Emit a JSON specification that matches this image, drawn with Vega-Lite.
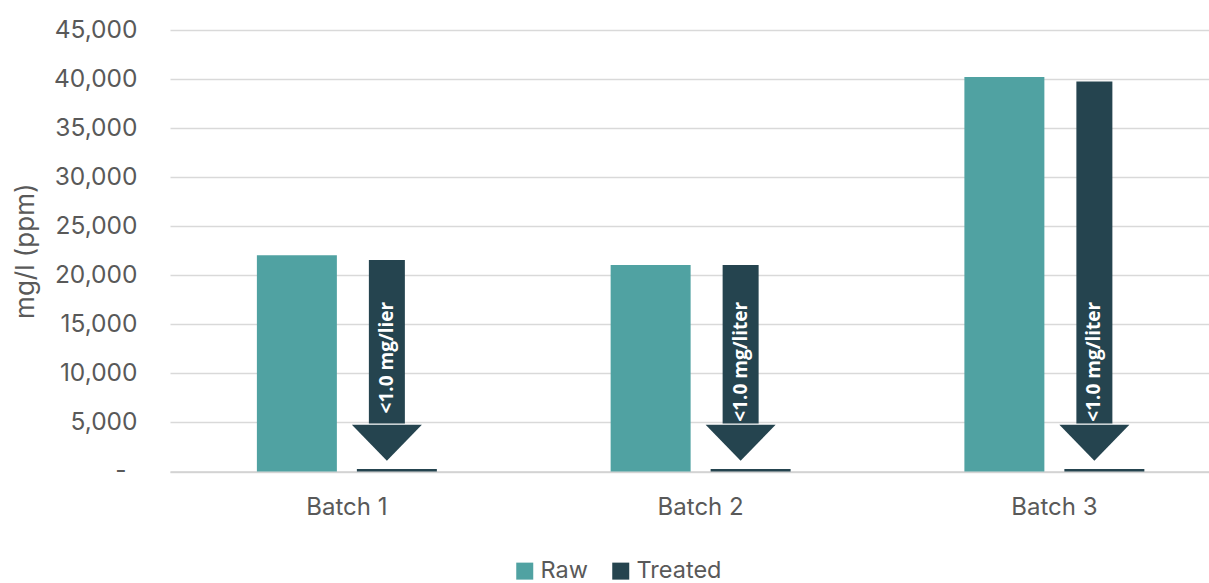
{
  "$schema": "https://vega.github.io/schema/vega-lite/v6.json",
  "autosize": "none",
  "width": 1039,
  "height": 441.5,
  "padding": {"left": 170, "top": 30, "right": 0, "bottom": 111.5},
  "background": "white",
  "config": {
    "view": {"stroke": null},
    "font": "Inter",
    "axis": {"labelFont": "Inter", "titleFont": "Inter", "labelColor": "#595959", "titleColor": "#595959"},
    "legend": {"labelFont": "Inter"}
  },
  "datasets": {
    "bars": [
      {"batch": "Batch 1", "series": "Raw", "value": 22050},
      {"batch": "Batch 1", "series": "Treated", "value": 250},
      {"batch": "Batch 2", "series": "Raw", "value": 21050},
      {"batch": "Batch 2", "series": "Treated", "value": 250},
      {"batch": "Batch 3", "series": "Raw", "value": 40200},
      {"batch": "Batch 3", "series": "Treated", "value": 250}
    ],
    "arrows": [
      {"batch": "Batch 1", "series": "Treated", "top": 21550, "note": "<1.0 mg/lier"},
      {"batch": "Batch 2", "series": "Treated", "top": 21050, "note": "<1.0 mg/liter"},
      {"batch": "Batch 3", "series": "Treated", "top": 39750, "note": "<1.0 mg/liter"}
    ]
  },
  "encoding": {
    "x": {
      "field": "batch",
      "type": "nominal",
      "sort": ["Batch 1", "Batch 2", "Batch 3"],
      "scale": {"type": "band", "paddingInner": 0, "paddingOuter": 0, "range": [0, 1061.25]},
      "axis": {
        "title": null,
        "labelAngle": 0,
        "labelFontSize": 24,
        "labelPadding": 24,
        "ticks": false,
        "domain": true,
        "domainColor": "#d0d0d0",
        "domainWidth": 1.5,
        "grid": false
      }
    }
  },
  "layer": [
    {
      "data": {"name": "bars"},
      "mark": {"type": "bar"},
      "encoding": {
        "xOffset": {
          "field": "series",
          "type": "nominal",
          "scale": {"domain": ["Raw", "Treated"], "paddingInner": 0.2, "paddingOuter": 0.869}
        },
        "y": {
          "field": "value",
          "type": "quantitative",
          "scale": {"domain": [0, 45000], "nice": false},
          "axis": {
            "title": "mg/l (ppm)",
            "titleFontSize": 26,
            "titleFontWeight": "normal",
            "titlePadding": 15,
            "values": [0, 5000, 10000, 15000, 20000, 25000, 30000, 35000, 40000, 45000],
            "labelExpr": "datum.value === 0 ? '-' : format(datum.value, ',')",
            "labelFontSize": 24.5,
            "labelPadding": {"condition": {"test": "datum.value === 0", "value": 44}, "value": 33},
            "ticks": false,
            "domain": false,
            "grid": true,
            "gridColor": "#d9d9d9",
            "gridWidth": 1.5
          }
        },
        "color": {
          "field": "series",
          "type": "nominal",
          "scale": {"domain": ["Raw", "Treated"], "range": ["#50a2a2", "#25444f"]},
          "legend": {
            "title": null,
            "orient": "none",
            "direction": "horizontal",
            "legendX": 343,
            "legendY": 529,
            "padding": 0,
            "symbolType": "square",
            "symbolSize": 289,
            "symbolStrokeWidth": 0,
            "labelFontSize": 23.5,
            "labelColor": "#595959",
            "labelOffset": 4,
            "columnPadding": 21
          }
        }
      }
    },
    {
      "data": {"name": "arrows"},
      "mark": {"type": "bar", "width": 36, "xOffset": 40, "color": "#25444f"},
      "encoding": {
        "y": {"field": "top", "type": "quantitative"},
        "y2": {"datum": 4900}
      }
    },
    {
      "data": {"name": "arrows"},
      "mark": {"type": "point", "shape": "M-1,-1.03L1,-1.03L0,0Z", "size": 4900, "filled": true, "opacity": 1, "xOffset": 40, "color": "#25444f", "strokeWidth": 0},
      "encoding": {
        "y": {"datum": 1100, "type": "quantitative"}
      }
    },
    {
      "data": {"name": "arrows"},
      "mark": {"type": "text", "angle": 270, "align": "right", "baseline": "middle", "xOffset": 40, "color": "white", "font": "Open Sans", "fontWeight": "bold", "fontSize": 19},
      "encoding": {
        "y": {"datum": 17300, "type": "quantitative"},
        "text": {"field": "note"}
      }
    }
  ]
}
